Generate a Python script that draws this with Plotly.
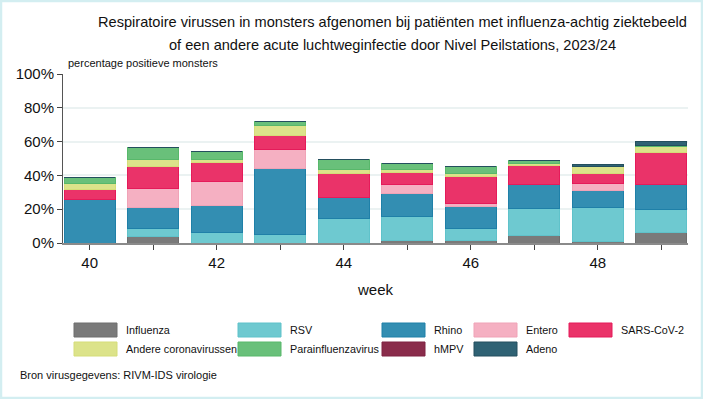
import plotly.graph_objects as go

weeks = [40, 41, 42, 43, 44, 45, 46, 47, 48, 49]
tick_labels = ["40", "", "42", "", "44", "", "46", "", "48", ""]

influenza = [0, 3.9, 0, 0, 0, 1.5, 1.5, 4.5, 0.9, 6.2]
rsv = [0, 4.7, 6.4, 5.0, 14.7, 14.0, 7.1, 15.8, 20.2, 13.9]
rhino = [25.6, 12.6, 15.7, 39.0, 12.1, 13.9, 12.9, 14.4, 10.1, 14.4]
entero = [0, 11.3, 14.0, 11.3, 0, 5.3, 1.9, 0, 4.1, 0]
sars = [6.1, 12.9, 11.3, 8.3, 14.3, 7.0, 16.1, 10.9, 5.8, 19.0]
andere = [3.5, 4.2, 2.0, 5.7, 2.3, 1.9, 1.9, 1.6, 3.9, 3.4]
para = [3.4, 6.9, 4.9, 2.8, 6.3, 3.4, 4.0, 1.8, 0.5, 0.9]
hmpv = [0, 0, 0, 0, 0, 0, 0, 0, 0, 0]
adeno = [0, 0, 0, 0, 0, 0, 0, 0, 1.2, 2.5]

names = ["Influenza", "RSV", "Rhino", "Entero", "SARS-CoV-2",
         "Andere coronavirussen", "Parainfluenzavirus", "hMPV", "Adeno"]
series = [influenza, rsv, rhino, entero, sars, andere, para, hmpv, adeno]
fills = ["#7a7a7a", "#6ec9d0", "#338eb2", "#f5b0c2", "#ea3369",
         "#dce38a", "#69c07a", "#8a2c4b", "#2f6274"]
edges = ["#6e6e6e", "#5fc2ca", "#1f80a8", "#f0a3b7", "#e51b5a",
         "#d5dd78", "#58b86b", "#7e2242", "#244f5e"]

FONT = "Arial, Liberation Sans, sans-serif"

fig = go.Figure()
for name, vals, fc, ec in zip(names, series, fills, edges):
    fig.add_trace(go.Bar(
        x=weeks, y=vals, name=name, width=0.8,
        marker=dict(color=fc, line=dict(color=ec, width=1)),
        showlegend=False,
    ))

# plot area in pixels
L, R, T, B = 63, 688, 74, 243
W, H = R - L, B - T
def px(x):
    return (x - L) / W
def py(y):
    return (B - y) / H

annotations = [
    dict(text="Respiratoire virussen in monsters afgenomen bij patiënten met influenza-achtig ziektebeeld",
         x=px(392), y=py(22), xref="paper", yref="paper", showarrow=False,
         xanchor="center", yanchor="middle", font=dict(size=14.6, color="#111")),
    dict(text="of een andere acute luchtweginfectie door Nivel Peilstations, 2023/24",
         x=px(392), y=py(45), xref="paper", yref="paper", showarrow=False,
         xanchor="center", yanchor="middle", font=dict(size=14.6, color="#111")),
    dict(text="percentage positieve monsters",
         x=px(66), y=py(63), xref="paper", yref="paper", showarrow=False,
         xanchor="left", yanchor="middle", font=dict(size=11, color="#111")),
    dict(text="week", x=px(375), y=py(289), xref="paper", yref="paper",
         showarrow=False, xanchor="center", yanchor="middle",
         font=dict(size=15, color="#111")),
    dict(text="Bron virusgegevens: RIVM-IDS virologie", x=px(18), y=py(375),
         xref="paper", yref="paper", showarrow=False, xanchor="left",
         yanchor="middle", font=dict(size=11, color="#111")),
]

shapes = []
# legend layout (pixel positions)
leg_x = [74, 238, 382, 474, 569, 74, 238, 382, 474]
leg_y = [330, 330, 330, 330, 330, 349, 349, 349, 349]
for name, fc, ec, lx, ly in zip(names, fills, edges, leg_x, leg_y):
    shapes.append(dict(type="rect", xref="paper", yref="paper",
                       x0=px(lx), x1=px(lx + 43), y0=py(ly + 7), y1=py(ly - 7),
                       fillcolor=fc, line=dict(color=ec, width=1)))
    annotations.append(dict(text=name, x=px(lx + 50), y=py(ly), xref="paper",
                            yref="paper", showarrow=False, xanchor="left",
                            yanchor="middle", font=dict(size=10.8, color="#111")))

# outer border
shapes.append(dict(type="rect", xref="paper", yref="paper",
                   x0=px(1), x1=px(702), y0=py(398), y1=py(1),
                   line=dict(color="#d3eef1", width=2.5), fillcolor="rgba(0,0,0,0)",
                   layer="below"))

fig.update_layout(
    barmode="stack",
    bargap=0.2,
    width=703, height=399,
    margin=dict(l=L, r=703 - R, t=T, b=399 - B),
    paper_bgcolor="white", plot_bgcolor="white",
    font=dict(family=FONT, color="#111"),
    annotations=annotations,
    shapes=shapes,
    xaxis=dict(range=[39.58, 49.42], tickvals=weeks, ticktext=tick_labels,
               ticks="outside", ticklen=5, tickcolor="#444", tickwidth=1,
               showline=True, linecolor="#8a8a8a", linewidth=2,
               showgrid=False, zeroline=False, tickfont=dict(size=15)),
    yaxis=dict(range=[0, 100], tickvals=[0, 20, 40, 60, 80, 100],
               ticktext=["0%", "20%", "40%", "60%", "80%", "100%"],
               ticks="outside", ticklen=5, tickcolor="#444", tickwidth=1,
               showline=True, linecolor="#555", linewidth=1,
               showgrid=True, gridcolor="#ebf2f2", gridwidth=1.5,
               zeroline=False, tickfont=dict(size=15)),
)

fig.write_html("out.html", config={"displayModeBar": False},
               post_script="document.body.style.margin='0';document.body.style.overflow='hidden';")
